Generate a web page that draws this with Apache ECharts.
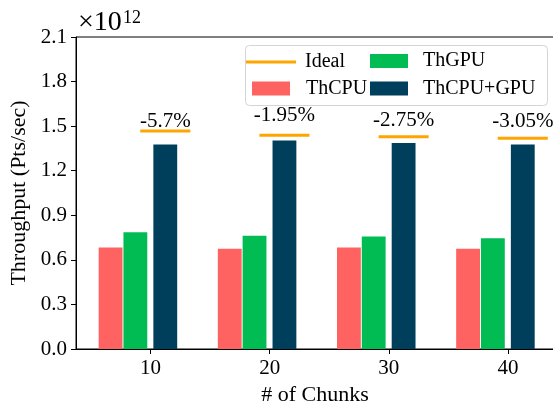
<!DOCTYPE html>
<html>
<head>
<meta charset="utf-8">
<script src="https://cdn.jsdelivr.net/npm/echarts@6/dist/echarts.min.js"></script>
<style>
  html, body { margin: 0; padding: 0; background: #fff; }
  #chart { width: 553px; height: 401px; }
</style>
</head>
<body>
<div id="chart"></div>
<script>
// values in units of 10^12 Pts/sec
const chunks = [10, 20, 30, 40]
const thCpu = [0.684, 0.675, 0.684, 0.675]
const thGpu = [0.785, 0.763, 0.758, 0.745]
const thCpuGpu = [1.377, 1.404, 1.386, 1.377]
const ideal = [1.467, 1.438, 1.429, 1.418]
const gapLabels = ['-5.7%', '-1.95%', '-2.75%', '-3.05%']
const gapLabelY = [1.53, 1.575, 1.535, 1.53]

const font = '"Liberation Serif", "Times New Roman", serif'
const colors = { cpu: '#ff6361', gpu: '#00bc52', both: '#003f5c', ideal: '#ffa500' }

// bar layout in x-axis units
const barW = 2.0
const offCpu = -3.35
const offGpu = -1.27
const offBoth = 1.24
const idealHalf = 2.1

const chart = echarts.init(document.getElementById('chart'))

const barSeries = (name, values, color, off) => ({
  type: 'custom',
  name,
  itemStyle: { color },
  encode: { x: 0, y: 1 },
  data: chunks.map((c, i) => [c, values[i]]),
  renderItem: (params, api) => {
    const x = api.value(0) + off
    const p0 = api.coord([x - barW / 2, api.value(1)])
    const p1 = api.coord([x + barW / 2, 0])
    return {
      type: 'rect',
      shape: { x: p0[0], y: p0[1], width: p1[0] - p0[0], height: p1[1] - p0[1] },
      style: { fill: color },
    }
  },
})

const legendBase = {
  padding: 0,
  selectedMode: false,
  textStyle: { color: '#000', fontFamily: font, fontSize: 20 },
}

const option = {
  animation: false,
  backgroundColor: '#fff',
  grid: {
    left: 76, top: 37, right: -1, bottom: 52,
    outerBoundsMode: 'none',
    containLabel: false,
    show: true, borderColor: '#000', borderWidth: 1,
  },
  xAxis: {
    type: 'value',
    min: 3.748,
    max: 43.86,
    splitLine: { show: false },
    axisLine: { show: true, lineStyle: { color: '#000' } },
    axisTick: { show: true, customValues: chunks, length: 5, lineStyle: { color: '#000' } },
    axisLabel: { customValues: chunks, color: '#000', fontFamily: font, fontSize: 21, margin: 9 },
    name: '# of Chunks',
    nameLocation: 'middle',
    nameGap: 33,
    nameTextStyle: { color: '#000', fontFamily: font, fontSize: 22 },
  },
  yAxis: {
    type: 'value',
    min: 0,
    max: 2.1,
    interval: 0.3,
    splitLine: { show: false },
    axisLine: { show: true, lineStyle: { color: '#000' } },
    axisTick: { show: true, length: 5, lineStyle: { color: '#000' } },
    axisLabel: {
      color: '#000',
      fontFamily: font,
      fontSize: 21,
      margin: 9,
      formatter: (v) => v.toFixed(1),
    },
    name: 'Throughput (Pts/sec)',
    nameLocation: 'middle',
    nameGap: 42,
    nameTextStyle: { color: '#000', fontFamily: font, fontSize: 22 },
  },
  legend: [
    { ...legendBase, data: [{ name: 'Ideal', icon: 'rect', itemStyle: { color: colors.ideal } }],
      left: 246, top: 52, itemWidth: 50, itemHeight: 3,
      textStyle: { ...legendBase.textStyle, padding: [0, 0, 0, 4] } },
    { ...legendBase, data: [{ name: 'ThGPU', icon: 'rect' }],
      left: 370, top: 51, itemWidth: 38, itemHeight: 14,
      textStyle: { ...legendBase.textStyle, padding: [0, 0, 0, 10] } },
    { ...legendBase, data: [{ name: 'ThCPU', icon: 'rect' }],
      left: 252, top: 78.5, itemWidth: 38, itemHeight: 14,
      textStyle: { ...legendBase.textStyle, padding: [0, 0, 0, 11] } },
    { ...legendBase, data: [{ name: 'ThCPU+GPU', icon: 'rect' }],
      left: 370, top: 78.5, itemWidth: 38, itemHeight: 14,
      textStyle: { ...legendBase.textStyle, padding: [0, 0, 0, 10] } },
  ],
  graphic: [
    {
      type: 'rect',
      left: 245,
      top: 45,
      z: 3,
      shape: { width: 302, height: 60, r: 4 },
      style: { fill: 'rgba(255,255,255,0.85)', stroke: '#d4d4d4', lineWidth: 1 },
    },
    {
      type: 'text',
      left: 78,
      top: 9,
      style: { text: '×10', fill: '#000', fontFamily: font, fontSize: 28 },
    },
    {
      type: 'text',
      left: 123,
      top: 9,
      style: { text: '12', fill: '#000', fontFamily: font, fontSize: 18 },
    },
  ],
  series: [
    {
      type: 'custom',
      name: 'Ideal',
      itemStyle: { color: colors.ideal },
      encode: { x: 0, y: 1 },
      z: 5,
      data: chunks.map((c, i) => [c, ideal[i]]),
      renderItem: (params, api) => {
        const i = params.dataIndex
        const c = api.value(0) + offBoth
        const a = api.coord([c - idealHalf, api.value(1)])
        const b = api.coord([c + idealHalf, api.value(1)])
        const t = api.coord([c, gapLabelY[i]])
        return {
          type: 'group',
          children: [
            { type: 'line', shape: { x1: a[0], y1: a[1], x2: b[0], y2: b[1] },
              style: { stroke: colors.ideal, lineWidth: 3 } },
            { type: 'text', x: t[0], y: t[1],
              style: { text: gapLabels[i], fill: '#000', fontFamily: font, fontSize: 21,
                       align: 'center', verticalAlign: 'middle' } },
          ],
        }
      },
    },
    barSeries('ThCPU', thCpu, colors.cpu, offCpu),
    barSeries('ThGPU', thGpu, colors.gpu, offGpu),
    barSeries('ThCPU+GPU', thCpuGpu, colors.both, offBoth),
  ],
}

chart.setOption(option)
</script>
</body>
</html>
